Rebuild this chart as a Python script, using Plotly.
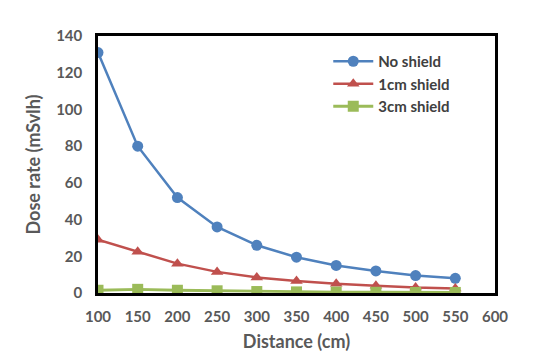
import plotly.graph_objects as go

distance = [100, 150, 200, 250, 300, 350, 400, 450, 500, 550]
no_shield = [131, 80, 52, 36, 26, 19.5, 15, 12, 9.5, 8]
shield_1cm = [29, 22.5, 16, 11.5, 8.5, 6.5, 5, 4, 3, 2.5]
shield_3cm = [1.5, 2, 1.5, 1.2, 0.8, 0.6, 0.5, 0.4, 0.3, 0.3]

fig = go.Figure()
fig.add_trace(go.Scatter(x=distance, y=no_shield, name="No shield", mode="lines+markers",
                         line=dict(color="#4F81BD", width=2.5),
                         marker=dict(symbol="circle", size=11, color="#4F81BD")))
fig.add_trace(go.Scatter(x=distance, y=shield_1cm, name="1cm shield", mode="lines+markers",
                         line=dict(color="#C0504D", width=2.5),
                         marker=dict(symbol="triangle-up", size=11, color="#C0504D")))
fig.add_trace(go.Scatter(x=distance, y=shield_3cm, name="3cm shield", mode="lines+markers",
                         line=dict(color="#9BBB59", width=2.8),
                         marker=dict(symbol="square", size=11, color="#9BBB59")))

font = dict(family="Lato, Open Sans, sans-serif", color="#595959")
fig.update_layout(
    width=550, height=363,
    margin=dict(l=90, r=63, t=28, b=78),
    paper_bgcolor="white", plot_bgcolor="white",
    font=font,
    showlegend=True,
    legend=dict(x=0.58, y=0.965, xanchor="left", yanchor="top",
                font=dict(family="Lato, Open Sans, sans-serif", size=15, color="#404040", weight="bold"),
                bgcolor="rgba(0,0,0,0)", tracegroupgap=0, itemwidth=40),
    xaxis=dict(range=[100, 600], tickvals=[100, 150, 200, 250, 300, 350, 400, 450, 500, 550, 600],
               automargin=False,
               showgrid=False, zeroline=False, showline=True, linecolor="black", linewidth=2.5, mirror=True,
               ticks="", ticklabelstandoff=8, tickfont=dict(size=15, weight="bold", color="#595959"),
               title=dict(text="Distance (cm)", font=dict(size=18, weight="bold", color="#595959"), standoff=12)),
    yaxis=dict(range=[0, 140], tickvals=[0, 20, 40, 60, 80, 100, 120, 140],
               automargin=False,
               showgrid=False, zeroline=False, showline=True, linecolor="black", linewidth=2.5, mirror=True,
               ticks="", ticklabelstandoff=10, tickfont=dict(size=15, weight="bold", color="#595959"),
               title=dict(text="Dose rate (mSvlh)", font=dict(size=18, weight="bold", color="#595959"), standoff=11)),
)
fig.write_html("out.html")
